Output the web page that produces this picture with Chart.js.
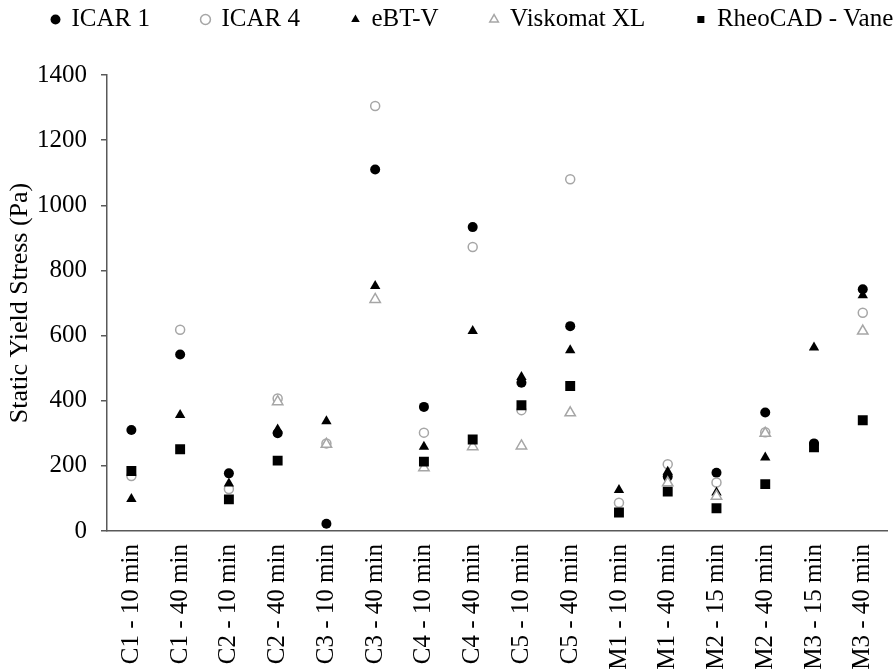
<!DOCTYPE html>
<html>
<head>
<meta charset="utf-8">
<script src="https://cdn.jsdelivr.net/npm/chart.js@4"></script>
<style>
  html, body { margin: 0; padding: 0; background: #fff; }
  #outer { width: 896px; height: 670px; overflow: hidden; }
  #wrap { width: 906px; height: 670px; position: relative; }
</style>
</head>
<body>
<div id="outer"><div id="wrap"><canvas id="yieldChart"></canvas></div></div>
<script>
// Categories (mix - resting time)
const categories = [
  "C1 - 10 min", "C1 - 40 min", "C2 - 10 min", "C2 - 40 min",
  "C3 - 10 min", "C3 - 40 min", "C4 - 10 min", "C4 - 40 min",
  "C5 - 10 min", "C5 - 40 min", "M1 - 10 min", "M1 - 40 min",
  "M2 - 15 min", "M2 - 40 min", "M3 - 15 min", "M3 - 40 min"
];

// Static yield stress (Pa) per rheometer
const icar1 = [310, 542, 177, 300, 22, 1110, 381, 933, 455, 629, null, 167, 179, 364, 269, 742];
const icar4 = [169, 618, 129, 407, 269, 1305, 302, 872, 371, 1080, 87, 205, 149, 303, null, 670];
const ebtV = [98, 356, 146, 312, 337, 752, 259, 614, 473, 555, 126, 182, 118, 226, 563, 724];
const viskomatXL = [null, null, null, 397, 266, 711, 194, 259, 261, 363, null, 148, 107, 300, null, 614];
const rheocadVane = [184, 251, 97, 216, null, null, 213, 281, 386, 445, 57, 121, 70, 144, 257, 340];

const yTicks = [0, 200, 400, 600, 800, 1000, 1200, 1400];

const FONT = "'Liberation Serif', 'Times New Roman', serif";
const GREY = "#a6a6a6";
const LEGEND_PAD = 52;

function series(label, data, style, fill, color, radius, order) {
  return {
    label: label,
    data: data,
    showLine: false,
    pointStyle: style,
    pointRadius: radius,
    pointHoverRadius: radius,
    pointBackgroundColor: fill ? color : "#ffffff",
    pointBorderColor: color,
    pointBorderWidth: fill ? 0 : 1.5,
    backgroundColor: fill ? color : "#ffffff",
    borderColor: color,
    order: order,
  };
}

// legend: fixed height above the plot, then nudged into place (one row)
const legendPlace = {
  id: "legendPlace",
  beforeInit(chart) {
    const fit = chart.legend.fit;
    chart.legend.fit = function () {
      fit.bind(chart.legend)();
      this.height = 75;
    };
  },
  afterLayout(chart) {
    const lg = chart.legend;
    lg.top = 22 - LEGEND_PAD - 15;
    lg.left = 52 - LEGEND_PAD;
    lg.right = 2000;
  },
};

const ctx = document.getElementById("yieldChart").getContext("2d");
const yieldChart = new Chart(ctx, {
  type: "line",
  data: {
    labels: categories,
    datasets: [
      series("ICAR 1", icar1, "circle", true, "#000000", 5, 4),
      series("ICAR 4", icar4, "circle", false, GREY, 4.5, 3),
      series("eBT-V", ebtV, "triangle", true, "#000000", 6, 2),
      series("Viskomat XL", viskomatXL, "triangle", false, GREY, 6, 1),
      series("RheoCAD - Vane", rheocadVane, "rect", true, "#000000", 7, 0),
    ],
  },
  options: {
    responsive: true,
    maintainAspectRatio: false,
    animation: false,
    layout: { padding: { left: 0, right: 2, top: 0, bottom: 0 } },
    plugins: {
      legend: {
        display: true,
        position: "top",
        align: "start",
        reverse: true,
        labels: {
          usePointStyle: true,
          boxWidth: 7,
          boxHeight: 7,
          padding: LEGEND_PAD,
          color: "#000",
          font: { family: FONT, size: 25 },
        },
      },
      tooltip: { enabled: false },
    },
    scales: {
      x: {
        offset: true,
        afterFit(scale) {
          scale.height = 139;
        },
        grid: { display: false, drawTicks: false },
        border: { display: true, color: "#595959", width: 1.5 },
        ticks: {
          autoSkip: false,
          maxRotation: 90,
          minRotation: 90,
          padding: 13,
          color: "#000",
          font: { family: FONT, size: 25 },
        },
      },
      y: {
        min: 0,
        max: 1400,
        afterBuildTicks(axis) {
          axis.ticks = yTicks.map((v) => ({ value: v }));
        },
        afterFit(scale) {
          scale.width = 107;
        },
        grid: {
          display: true,
          drawOnChartArea: false,
          drawTicks: true,
          tickLength: 6,
          color: "#595959",
          lineWidth: 1.5,
        },
        border: { display: true, color: "#595959", width: 1.5 },
        ticks: {
          padding: 14,
          color: "#000",
          font: { family: FONT, size: 25 },
          callback: (v) => String(v),
        },
        title: {
          display: true,
          text: "Static Yield Stress (Pa)",
          color: "#000",
          font: { family: FONT, size: 26 },
          padding: { top: 5, bottom: 0 },
        },
      },
    },
  },
  plugins: [legendPlace],
});
</script>
</body>
</html>
